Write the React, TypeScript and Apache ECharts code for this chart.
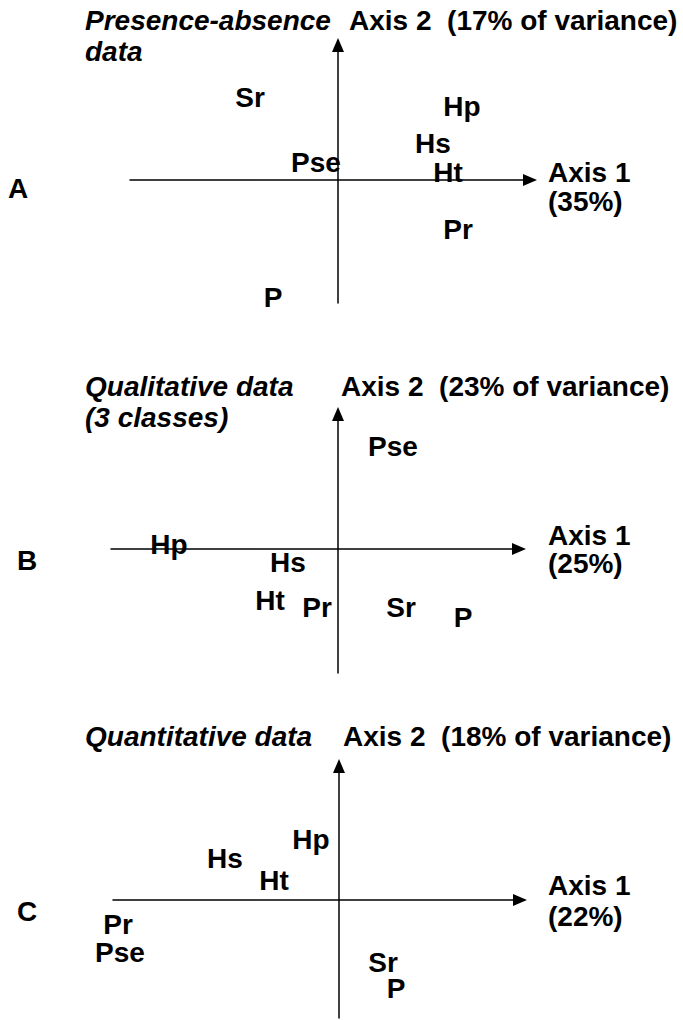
import React, { useEffect, useRef } from "react";
import * as echarts from "echarts";

// Species labels
const labelsA = ["Sr", "Hp", "Hs", "Pse", "Ht", "Pr", "P"];
const xA = [-0.88, 1.24, 0.95, -0.22, 1.1, 1.2, -0.65];
const yA = [0.83, 0.74, 0.37, 0.18, 0.08, -0.49, -1.17];

const labelsB = ["Pse", "Hp", "Hs", "Ht", "Pr", "Sr", "P"];
const xB = [0.55, -1.69, -0.5, -0.68, -0.21, 0.63, 1.25];
const yB = [1.03, 0.05, -0.13, -0.51, -0.58, -0.58, -0.68];

const labelsC = ["Hp", "Hs", "Ht", "Pr", "Pse", "Sr", "P"];
const xC = [-0.28, -1.14, -0.65, -2.21, -2.19, 0.44, 0.57];
const yC = [0.61, 0.42, 0.2, -0.24, -0.52, -0.62, -0.88];

const panelLetters = ["A", "B", "C"];
const panelTitles = [["Presence-absence", "data"], ["Qualitative data", "(3 classes)"], ["Quantitative data"]];
const axis2Texts = ["Axis 2  (17% of variance)", "Axis 2  (23% of variance)", "Axis 2  (18% of variance)"];
const axis1Pct = ["(35%)", "(25%)", "(22%)"];

const FONT = "'Liberation Sans', Arial, Helvetica, sans-serif";
const FS = 28;
const INK = "#000000";

export default function App() {
  const ref = useRef<HTMLDivElement>(null);
  useEffect(() => {
    if (!ref.current) return;
    const chart = echarts.init(ref.current, null, { renderer: "svg" });

    const grids = [
      { left: 130, top: 45, width: 400, height: 258 },
      { left: 111, top: 414, width: 408, height: 259 },
      { left: 113, top: 766, width: 407, height: 252 },
    ];
    const xr = [
      [-2.08, 1.92],
      [-2.27, 1.81],
      [-2.26, 1.81],
    ];
    const yr = [
      [-1.23, 1.35],
      [-1.24, 1.35],
      [-1.18, 1.34],
    ];
    const axisLine = (size: number[]) => ({
      show: true,
      onZero: true,
      symbol: ["none", "triangle"],
      symbolSize: size,
      lineStyle: { color: INK, width: 1.5 },
    });
    const xAxis = grids.map((_, i) => ({
      type: "value",
      gridIndex: i,
      min: xr[i][0],
      max: xr[i][1],
      axisLine: axisLine([12, 14]),
      axisTick: { show: false },
      axisLabel: { show: false },
      splitLine: { show: false },
    }));
    const yAxis = grids.map((_, i) => ({
      type: "value",
      gridIndex: i,
      min: yr[i][0],
      max: yr[i][1],
      axisLine: axisLine([12, 14]),
      axisTick: { show: false },
      axisLabel: { show: false },
      splitLine: { show: false },
    }));
    const sets = [
      [labelsA, xA, yA],
      [labelsB, xB, yB],
      [labelsC, xC, yC],
    ] as [string[], number[], number[]][];
    const series = sets.map(([names, xs, ys], i) => ({
      type: "scatter",
      xAxisIndex: i,
      yAxisIndex: i,
      symbolSize: 1,
      itemStyle: { color: "transparent", opacity: 1 },
      data: names.map((n, k) => ({ name: n, value: [xs[k], ys[k]] })),
      label: {
        show: true,
        position: "inside",
        formatter: (p: any) => p.name,
        color: INK,
        opacity: 1,
        fontFamily: FONT,
        fontWeight: "bold",
        fontSize: FS,
      },
      emphasis: { disabled: true },
      z: 5,
    }));

    const txt = (text: string, x: number, y: number, italic = false) => ({
      type: "text",
      x,
      y,
      style: {
        text,
        fill: INK,
        font: `${italic ? "italic " : ""}bold ${FS}px ${FONT}`,
        verticalAlign: "middle",
        align: "left",
      },
    });

    const rowY = [20, 386, 736];
    const row2Y = [51, 417, 0];
    const axis2X = [349, 341, 343];
    const axis1Y = [172, 535, 885];
    const pctY = [201, 563, 916];
    const letterY = [188, 560, 911];
    const letterX = [8, 17, 17];
    const graphic: any[] = [];
    for (let i = 0; i < 3; i++) {
      graphic.push(txt(panelTitles[i][0], 85, rowY[i], true));
      if (panelTitles[i][1]) graphic.push(txt(panelTitles[i][1], 85, row2Y[i], true));
      graphic.push(txt(axis2Texts[i], axis2X[i], rowY[i]));
      graphic.push(txt("Axis 1", 548, axis1Y[i]));
      graphic.push(txt(axis1Pct[i], 548, pctY[i]));
      graphic.push(txt(panelLetters[i], letterX[i], letterY[i]));
    }

    chart.setOption({
      animation: false,
      backgroundColor: "#ffffff",
      grid: grids,
      xAxis,
      yAxis,
      series,
      graphic,
    } as any);
    return () => chart.dispose();
  }, []);
  return (
    <div
      ref={ref}
      style={{ position: "fixed", left: 0, top: 0, width: 683, height: 1020, background: "#fff" }}
    />
  );
}
